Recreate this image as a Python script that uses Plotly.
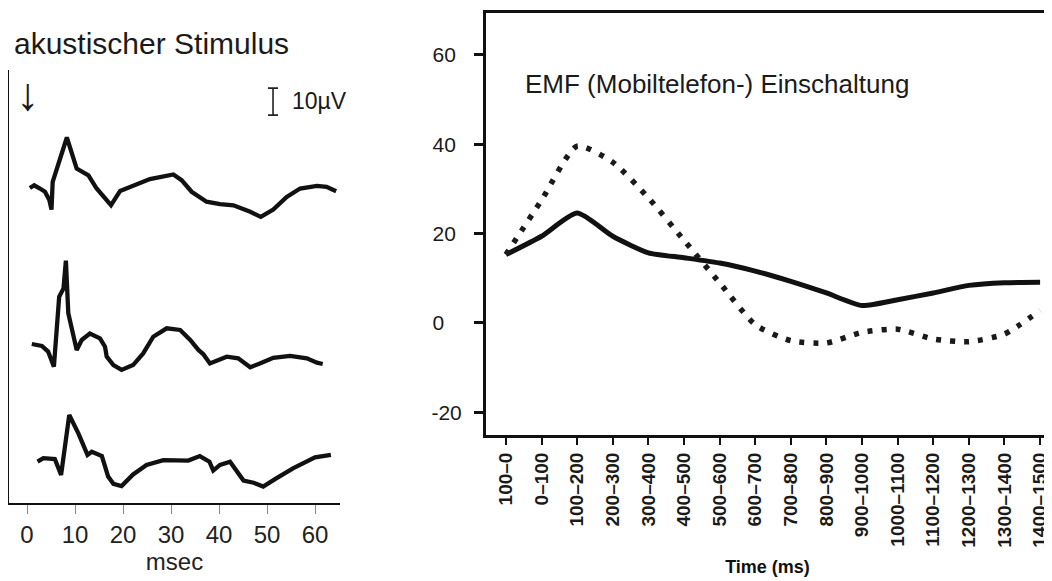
import plotly.graph_objects as go

# browser window size; the page body has an 8px default margin, so the figure is 8px smaller
WIN_W, WIN_H = 1052, 581
BODY = 8
W, H = WIN_W - BODY, WIN_H - BODY

# ---------------- left panel: auditory evoked potentials ----------------
stim_title = "akustischer Stimulus"
ms_ticks = [0, 10, 20, 30, 40, 50, 60]
ms_axis_title = "msec"
scale_label = "10µV"
scale_uv = 10

trace1_ms = [0.6, 1.5, 2.7, 3.75, 4.65, 5.1, 5.35, 5.8, 8.3, 10.35, 11.7, 12.8, 14.5, 17.5,
             19.4, 22.1, 25.6, 30.5, 32.2, 34.3, 37.4, 40.2, 43.0, 46.5, 48.7, 51.3, 54.1,
             56.9, 60.4, 62.4, 64.4]
trace1_uv = [-0.3, 0.7, -0.5, -1.7, -4.8, -8.3, 2.0, 4.4, 18.4, 6.9, 5.7, 4.4, -0.5, -6.7,
             -1.4, 0.7, 3.0, 4.7, 2.6, -1.7, -5.4, -6.3, -6.7, -9.1, -11.0, -8.3, -3.6,
             -0.5, 0.5, 0.1, -1.5]

trace2_ms = [1.0, 3.1, 4.4, 5.6, 6.7, 7.6, 8.1, 8.6, 10.35, 11.4, 13.1, 15.2, 16.25, 16.6,
             18.0, 19.7, 22.1, 24.2, 26.3, 29.1, 31.9, 34.0, 35.7, 36.7, 38.1, 41.6, 44.0,
             46.5, 48.5, 51.3, 54.8, 58.3, 60.4, 61.6]
trace2_uv = [0.0, -0.7, -2.8, -8.4, 17.5, 20.6, 30.9, 11.4, -2.2, 1.5, 3.9, 2.1, -1.0, -4.7,
             -7.8, -9.6, -7.8, -3.5, 2.7, 5.8, 5.2, 1.5, -2.2, -3.7, -7.2, -4.7, -5.3,
             -8.6, -7.2, -5.1, -4.4, -5.3, -6.9, -7.4]

trace3_ms = [2.2, 3.4, 5.8, 7.1, 8.8, 10.7, 12.6, 13.5, 15.6, 16.9, 18.0, 19.7, 22.1, 24.9,
             28.4, 33.6, 36.0, 38.0, 38.8, 40.2, 42.3, 45.1, 47.2, 49.2, 52.0, 55.5, 60.0,
             61.7, 63.3]
trace3_uv = [0.1, 1.4, 1.1, -4.8, 17.4, 10.6, 2.6, 3.8, 2.2, -5.4, -8.1, -8.9, -4.6, -1.1,
             0.7, 0.5, 2.2, 0.1, -3.2, -1.1, 0.1, -6.9, -7.7, -9.1, -6.0, -2.3, 1.7,
             2.0, 2.6]

# ---------------- right panel: EMF switching ----------------
emf_title = "EMF (Mobiltelefon-) Einschaltung"
time_axis_title = "Time (ms)"
time_bins = ["100–0", "0–100", "100–200", "200–300", "300–400", "400–500", "500–600",
             "600–700", "700–800", "800–900", "900–1000", "1000–1100", "1100–1200",
             "1200–1300", "1300–1400", "1400–1500"]
solid_vals = [15.3, 19.4, 24.6, 19.4, 15.7, 14.6, 13.4, 11.6, 9.3, 6.7, 3.9, 5.2, 6.7, 8.4,
              9.0, 9.1]
dotted_vals = [15.3, 27.5, 39.6, 36.0, 28.0, 18.5, 9.0, -0.4, -4.0, -4.5, -2.1, -1.4, -3.6,
               -4.2, -2.5, 2.8]
y2_ticks = [-20, 0, 20, 40, 60]

# ---------------- layout helpers (window pixel -> paper fraction) ----------------
def px_x(p):
    return (p - BODY) / W

def px_y(p):
    return (WIN_H - p) / H

trace_offsets = [117.0, 58.9, 15.2]   # vertical stacking of the three sweeps (µV)
ink = "#111111"

fig = go.Figure()

for ms, uv, off in [(trace1_ms, trace1_uv, trace_offsets[0]),
                    (trace2_ms, trace2_uv, trace_offsets[1]),
                    (trace3_ms, trace3_uv, trace_offsets[2])]:
    fig.add_trace(go.Scatter(x=ms, y=[v + off for v in uv], mode="lines",
                             line=dict(color=ink, width=4.3),
                             xaxis="x", yaxis="y", showlegend=False, hoverinfo="skip"))

# scale bar drawn as a constant error bar of the scale value
fig.add_trace(go.Scatter(x=[51.25], y=[148.7], mode="markers",
                         marker=dict(size=1, opacity=0),
                         error_y=dict(type="constant", value=scale_uv / 2, width=5,
                                      thickness=1.6, color="#222"),
                         xaxis="x", yaxis="y", showlegend=False, hoverinfo="skip"))

fig.add_trace(go.Scatter(x=time_bins, y=solid_vals, mode="lines",
                         line=dict(color=ink, width=5, shape="spline", smoothing=0.6),
                         xaxis="x2", yaxis="y2", showlegend=False))
fig.add_trace(go.Scatter(x=time_bins, y=dotted_vals, mode="lines",
                         line=dict(color="#1a1a1a", width=5.5, shape="spline", smoothing=0.6,
                                   dash="5px,9px"),
                         xaxis="x2", yaxis="y2", showlegend=False))

# left-aligned y tick texts for right panel (pad with no-break spaces)
def label_width(s):
    return sum(0.333 if c == "-" else 0.556 for c in s)

raw = [str(v) for v in y2_ticks]
wmax = max(label_width(s) for s in raw)
y2_text = [s + "\u00a0" * round((wmax - label_width(s)) / 0.278) for s in raw]

font_main = "Liberation Sans, Arial, sans-serif"

fig.update_layout(
    width=W, height=H,
    margin=dict(l=0, r=0, t=0, b=0),
    paper_bgcolor="white", plot_bgcolor="white",
    xaxis=dict(domain=[px_x(9), px_x(340)], range=[-3.75, 65.2],
               tickvals=ms_ticks, ticks="outside", ticklen=9, tickwidth=1.2,
               tickcolor="#888", showline=True, linecolor="#111", linewidth=2,
               showgrid=False, zeroline=False,
               tickfont=dict(family=font_main, size=24, color="#222"),
               title=dict(text=ms_axis_title, standoff=3,
                          font=dict(family=font_main, size=24, color="#222")),
               anchor="y"),
    yaxis=dict(domain=[px_y(503), px_y(70)], range=[0, 160.4],
               showline=True, linecolor="#111", linewidth=2,
               showticklabels=False, ticks="", showgrid=False, zeroline=False,
               anchor="x"),
    xaxis2=dict(domain=[px_x(486), px_x(1049)], type="category",
                categoryorder="array", categoryarray=time_bins,
                range=[-0.56, 15.25], tickangle=-90,
                ticks="outside", ticklen=7, tickwidth=2, tickcolor="#111",
                showline=True, mirror=True, linecolor="#111", linewidth=3,
                showgrid=False, zeroline=False,
                tickfont=dict(family=font_main, size=19, color="#1a1a1a", weight="bold"),
                title=dict(text=time_axis_title, standoff=14,
                           font=dict(family=font_main, size=18, color="#111", weight="bold")),
                anchor="y2"),
    yaxis2=dict(domain=[px_y(435), px_y(13)], range=[-25.1, 69.4],
                tickvals=y2_ticks, ticktext=y2_text,
                ticks="outside", ticklen=9, tickwidth=2.5, tickcolor="#111",
                ticklabelstandoff=8,
                showline=True, mirror=True, linecolor="#111", linewidth=3,
                showgrid=False, zeroline=False,
                tickfont=dict(family=font_main, size=21, color="#1a1a1a"),
                anchor="x2"),
    annotations=[
        dict(text=stim_title, xref="paper", yref="paper", x=px_x(12), y=px_y(44),
             xanchor="left", yanchor="middle", showarrow=False,
             font=dict(family=font_main, size=30, color="#1a1a1a")),
        dict(text="↓", xref="x", yref="paper", x=0, y=px_y(94),
             xanchor="center", yanchor="middle", showarrow=False,
             font=dict(family=font_main, size=46, color="#1a1a1a")),
        dict(text=scale_label, xref="paper", yref="paper", x=px_x(290), y=px_y(101),
             xanchor="left", yanchor="middle", showarrow=False,
             font=dict(family=font_main, size=23, color="#1a1a1a")),
        dict(text=emf_title, xref="paper", yref="paper", x=px_x(523), y=px_y(84),
             xanchor="left", yanchor="middle", showarrow=False,
             font=dict(family=font_main, size=26, color="#1a1a1a")),
    ],
)

fig.write_html("out.html")
